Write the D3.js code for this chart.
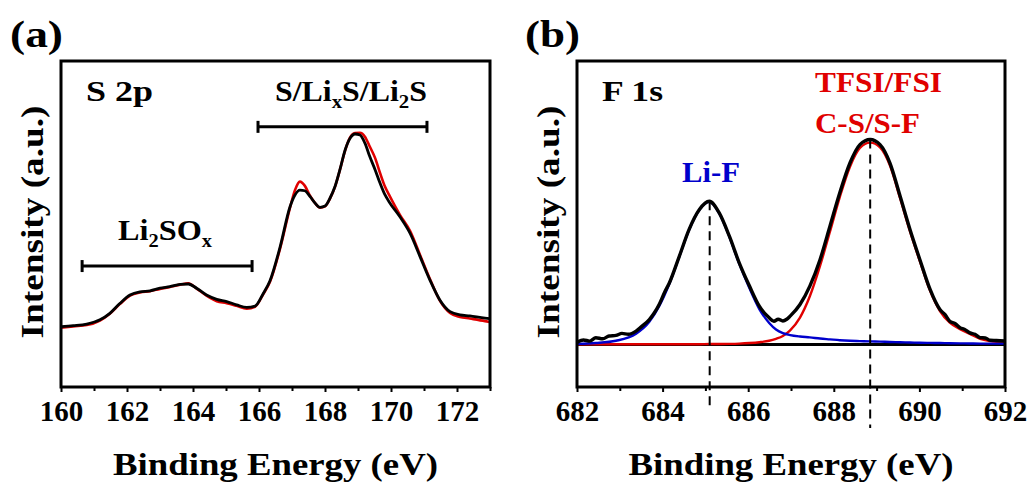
<!DOCTYPE html>
<html><head><meta charset="utf-8">
<script src="https://cdn.jsdelivr.net/npm/d3@7"></script>
<style>
html,body{margin:0;padding:0;background:#fff;}
svg{display:block;}
</style></head><body>
<svg id="chart" width="1033" height="485"></svg>
<script>
// ---------- Panel (a): S 2p ----------
const aEnergy = [160.0, 160.37, 160.78, 161.18, 161.48, 161.79, 162.09, 162.39, 162.70, 163.0, 163.30, 163.61, 163.86, 164.11, 164.41, 164.72, 165.02, 165.32, 165.63, 165.88, 166.13, 166.33, 166.64, 166.94, 167.09, 167.24, 167.39, 167.55, 167.70, 167.85, 168.0, 168.15, 168.30, 168.45, 168.61, 168.76, 168.91, 169.06, 169.21, 169.36, 169.52, 169.67, 169.82, 169.97, 170.27, 170.58, 170.88, 171.18, 171.48, 171.79, 172.09, 172.39, 172.85, 173.0];
const aBlack = [18.5, 18.8, 19.3, 20.6, 22.6, 25.7, 28.2, 29.2, 29.5, 30.3, 30.8, 31.5, 31.6, 30.3, 28.2, 26.9, 26.2, 25.2, 24.4, 24.8, 28.7, 32.5, 43.0, 55.3, 58.9, 60.4, 60.2, 58.4, 56.4, 55.1, 55.5, 57.9, 61.4, 66.6, 72.7, 76.3, 77.6, 77.3, 74.8, 70.6, 66.6, 62.5, 58.9, 56.4, 52.2, 47.1, 40.0, 32.8, 26.7, 23.1, 22.1, 21.8, 21.1, 21.0];
const aRed = [18.2, 18.6, 19.0, 20.4, 22.5, 25.5, 28.0, 29.0, 29.4, 30.1, 30.7, 31.4, 31.8, 30.2, 28.0, 26.3, 25.7, 24.9, 24.0, 24.6, 28.5, 32.2, 42.5, 55.0, 60.4, 63.0, 61.7, 58.6, 56.4, 55.0, 55.4, 57.8, 61.3, 66.5, 72.6, 76.6, 77.9, 78.0, 76.8, 73.7, 70.2, 65.6, 61.4, 58.4, 52.8, 47.8, 40.5, 33.1, 26.5, 22.7, 21.5, 21.0, 20.2, 19.9];
const aTicksMajor = [160, 162, 164, 166, 168, 170, 172];
const aTicksMinor = [161, 163, 165, 167, 169, 171, 173];
// range bars: Li2SOx and S/LixS/Li2S
const aBarStart = [160.64, 165.97];
const aBarEnd = [165.79, 171.09];
const aBarLevel = [37.1, 79.8];

// ---------- Panel (b): F 1s ----------
const bEnvEnergy = [682.0, 682.15, 682.3, 682.44, 682.6, 682.75, 682.91, 683.05, 683.2, 683.38, 683.5, 683.69, 683.8, 683.92, 684.05, 684.16, 684.39, 684.62, 684.86, 685.09, 685.32, 685.56, 685.79, 686.03, 686.26, 686.49, 686.6, 686.7, 686.81, 686.9, 686.98, 687.21, 687.44, 687.68, 687.91, 688.14, 688.38, 688.61, 688.85, 689.08, 689.31, 689.55, 689.78, 690.01, 690.25, 690.48, 690.6, 690.71, 690.83, 690.95, 691.06, 691.18, 691.3, 691.42, 691.54, 691.65, 691.8, 692.0];
const bEnvelope = [0.8, 1.6, 1.2, 2.4, 2.0, 3.0, 3.2, 3.9, 3.6, 4.7, 6.2, 8.8, 11.0, 14.1, 18.5, 21.8, 31.1, 40.6, 47.6, 50.5, 46.5, 38.2, 28.8, 20.6, 13.5, 9.4, 8.2, 8.9, 8.3, 8.9, 10.0, 14.1, 20.6, 30.0, 41.7, 53.5, 64.1, 70.5, 72.3, 70.5, 64.1, 52.3, 40.6, 30.0, 19.4, 12.3, 10.5, 8.2, 7.4, 5.9, 5.3, 4.1, 3.6, 2.4, 2.3, 1.5, 1.4, 1.2];
const bCompEnergy = [682.0, 682.44, 682.91, 683.38, 683.69, 683.92, 684.16, 684.39, 684.62, 684.86, 685.09, 685.32, 685.56, 685.79, 686.03, 686.26, 686.49, 686.65, 686.81, 686.98, 687.21, 687.44, 687.68, 687.91, 688.14, 688.38, 688.61, 688.85, 689.08, 689.31, 689.55, 689.78, 690.01, 690.25, 690.48, 690.71, 690.95, 691.18, 691.42, 691.65, 692.0];
const bLiF = [0.2, 0.5, 1.3, 3.8, 8.0, 13.5, 21.5, 31.0, 40.5, 47.5, 50.3, 46.3, 38.0, 28.5, 19.8, 12.5, 7.6, 5.3, 4.0, 3.3, 2.8, 2.5, 2.1, 1.8, 1.5, 1.3, 1.2, 1.1, 1.0, 0.9, 0.8, 0.7, 0.6, 0.55, 0.5, 0.45, 0.4, 0.35, 0.3, 0.3, 0.3];
const bTFSI = [0.1, 0.1, 0.1, 0.1, 0.1, 0.1, 0.1, 0.1, 0.1, 0.1, 0.15, 0.15, 0.2, 0.3, 0.5, 0.8, 1.3, 2.0, 3.0, 5.0, 9.5, 17.0, 27.8, 39.8, 52.0, 62.8, 69.3, 71.2, 69.5, 63.2, 51.5, 39.9, 29.4, 18.9, 11.8, 7.7, 5.4, 3.7, 2.0, 1.2, 0.7];
const bTicksMajor = [682, 684, 686, 688, 690, 692];
const bTicksMinor = [683, 685, 687, 689, 691];
const bPeakEnergy = [685.1, 688.85];
const bPeakTop = [50.5, 72.3];
const bPeakBottom = [-22.5, -29.5];

const RED = "#e00000", BLUE = "#0000cc";
const FONT = "'Liberation Serif','Times New Roman',serif";
const svg = d3.select("#chart");

function txt(parent, x, y, size, str, len, color) {
  const t = parent.append("text").attr("x", x).attr("y", y)
    .style("font-family", FONT).style("font-weight", "bold")
    .style("font-size", size + "px").attr("fill", color || "#000");
  if (str !== null) t.text(str);
  if (len) t.attr("textLength", len).attr("lengthAdjust", "spacingAndGlyphs");
  return t;
}

function makePanel(cfg) {
  const x = d3.scaleLinear().domain(cfg.xDomain).range([cfg.left, cfg.right]);
  const y = d3.scaleLinear().domain(cfg.yDomain).range([cfg.bottom, cfg.top]);
  const g = svg.append("g");
  const clipId = "clip" + cfg.id;
  svg.append("clipPath").attr("id", clipId).append("rect")
    .attr("x", cfg.left).attr("y", cfg.top)
    .attr("width", cfg.right - cfg.left).attr("height", cfg.bottom - cfg.top);

  const minor = g.append("g").attr("transform", `translate(0,${cfg.bottom})`)
    .call(d3.axisBottom(x).tickValues(cfg.minor).tickSize(4).tickFormat(""));
  minor.select(".domain").remove();
  minor.selectAll("line").attr("stroke-width", 2);
  const major = g.append("g").attr("transform", `translate(0,${cfg.bottom})`)
    .call(d3.axisBottom(x).tickValues(cfg.major).tickSize(5).tickPadding(8).tickFormat(d3.format("d")));
  major.select(".domain").remove();
  major.selectAll("line").attr("stroke-width", 2);
  major.selectAll("text").style("font-size", "29px").attr("fill", "#000")
    .style("font-family", FONT).style("font-weight", "bold");

  txt(g, (cfg.left + cfg.right) / 2, 475, 32, "Binding Energy (eV)", 325).attr("text-anchor", "middle");
  txt(g, 0, 0, 32, "Intensity (a.u.)", 233).attr("text-anchor", "middle")
    .attr("transform", `translate(${cfg.left - 18},222) rotate(-90)`);
  txt(g, cfg.tagX, 47, 37, cfg.tag, cfg.tagLen);

  const plot = g.append("g").attr("clip-path", `url(#${clipId})`);
  return {x, y, g, plot};
}

function line(x, y, xs, ys, curve) {
  return d3.line().x((d, i) => x(xs[i])).y(d => y(d)).curve(curve || d3.curveMonotoneX)(ys);
}

function subText(t, parts) {
  parts.forEach(p => {
    const s = t.append("tspan").text(p[0]);
    if (p[1] === "sub") s.style("font-size", "19px").attr("dy", 7);
    if (p[1] === "up") s.attr("dy", -7);
  });
}

// ----- Panel a -----
{
  const P = makePanel({id: "a", left: 61, right: 490, top: 61, bottom: 387,
    xDomain: [160, 173], yDomain: [0, 100], major: aTicksMajor, minor: aTicksMinor,
    tag: "(a)", tagX: 10, tagLen: 53});
  const {x, y, g, plot} = P;
  plot.append("path").attr("d", line(x, y, aEnergy, aRed)).attr("fill", "none")
    .attr("stroke", RED).attr("stroke-width", 2.6);
  plot.append("path").attr("d", line(x, y, aEnergy, aBlack)).attr("fill", "none")
    .attr("stroke", "#000").attr("stroke-width", 2.8);
  aBarStart.forEach((s, i) => {
    const yy = y(aBarLevel[i]);
    g.append("line").attr("x1", x(s)).attr("x2", x(aBarEnd[i])).attr("y1", yy).attr("y2", yy)
      .attr("stroke", "#000").attr("stroke-width", 3);
    [s, aBarEnd[i]].forEach(e => g.append("line").attr("x1", x(e)).attr("x2", x(e))
      .attr("y1", yy - 6).attr("y2", yy + 6).attr("stroke", "#000").attr("stroke-width", 3));
  });
  g.append("rect").attr("x", 61).attr("y", 61).attr("width", 429).attr("height", 326)
    .attr("fill", "none").attr("stroke", "#000").attr("stroke-width", 3);
  txt(g, 86, 101, 29, "S 2p", 67);
  const t1 = txt(g, 275, 101, 29, null, 152);
  subText(t1, [["S/Li"], ["x", "sub"], ["S/Li", "up"], ["2", "sub"], ["S", "up"]]);
  const t2 = txt(g, 118, 240, 30, null, 94);
  subText(t2, [["Li"], ["2", "sub"], ["SO", "up"], ["x", "sub"]]);
}

// ----- Panel b -----
{
  const P = makePanel({id: "b", left: 577, right: 1005, top: 61, bottom: 387,
    xDomain: [682, 692], yDomain: [-15, 100], major: bTicksMajor, minor: bTicksMinor,
    tag: "(b)", tagX: 525, tagLen: 55});
  const {x, y, g, plot} = P;
  plot.append("path").attr("d", line(x, y, [682, 692], [0, 0], d3.curveLinear)).attr("fill", "none")
    .attr("stroke", "#000").attr("stroke-width", 3);
  plot.append("path").attr("d", line(x, y, bCompEnergy, bTFSI)).attr("fill", "none")
    .attr("stroke", RED).attr("stroke-width", 2.4);
  plot.append("path").attr("d", line(x, y, bCompEnergy, bLiF)).attr("fill", "none")
    .attr("stroke", BLUE).attr("stroke-width", 2.4);
  plot.append("path").attr("d", line(x, y, bEnvEnergy, bEnvelope)).attr("fill", "none")
    .attr("stroke", "#000").attr("stroke-width", 3.4);
  bPeakEnergy.forEach((e, i) => {
    g.append("line").attr("x1", x(e)).attr("x2", x(e))
      .attr("y1", y(bPeakTop[i])).attr("y2", y(bPeakBottom[i]))
      .attr("stroke", "#000").attr("stroke-width", 2).attr("stroke-dasharray", "9,6");
  });
  g.append("rect").attr("x", 577).attr("y", 61).attr("width", 428).attr("height", 326)
    .attr("fill", "none").attr("stroke", "#000").attr("stroke-width", 3);
  txt(g, 602, 101, 29, "F 1s", 61);
  txt(g, 815, 92, 30, "TFSI/FSI", 127, RED);
  txt(g, 815, 133, 30, "C-S/S-F", 105, RED);
  txt(g, 682, 182, 30, "Li-F", 58, BLUE);
}
</script>
</body></html>
